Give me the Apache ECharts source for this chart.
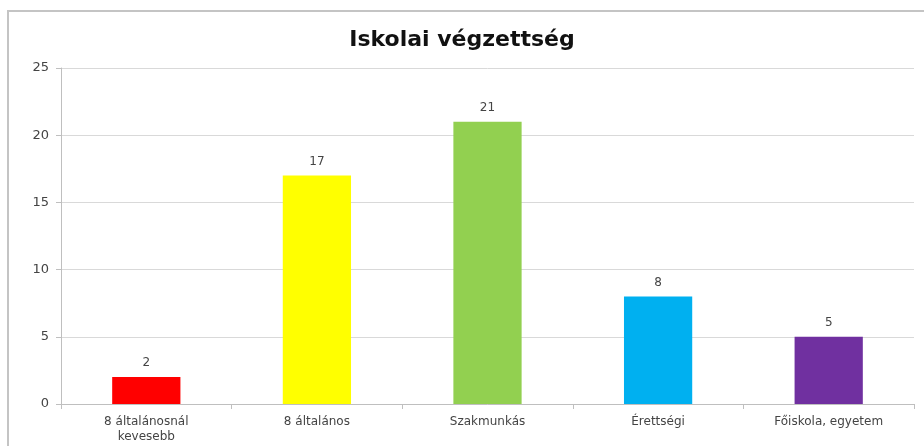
<!DOCTYPE html>
<html>
<head>
<meta charset="utf-8">
<script src="https://cdn.jsdelivr.net/npm/echarts@6/dist/echarts.min.js"></script>
<style>
  html, body { margin: 0; padding: 0; background: #fff; overflow: hidden; }
  #frame {
    position: absolute; left: 7px; top: 10px; width: 940px; height: 460px;
    border: 2px solid #c4c4c4; box-sizing: border-box;
  }
  #chart { position: absolute; left: 0; top: 0; width: 924px; height: 446px; }
</style>
</head>
<body>
<div id="frame"></div>
<div id="chart"></div>
<script>
// kategóriák és értékek
const categories = ["8 általánosnál\nkevesebb", "8 általános", "Szakmunkás", "Érettségi", "Főiskola, egyetem"];
const values = [2, 17, 21, 8, 5];
const barColors = ["#FF0000", "#FFFF00", "#92D050", "#00B0F0", "#7030A0"];

const font = "'DejaVu Sans', sans-serif";

const myChart = echarts.init(document.getElementById("chart"));
myChart.setOption({
  animation: false,
  title: {
    text: "Iskolai végzettség",
    left: "center",
    top: 24,
    textStyle: { fontFamily: font, fontSize: 22, fontWeight: "bold", color: "#111" }
  },
  grid: { left: 61, right: 10, top: 68, bottom: 42, containLabel: false },
  xAxis: {
    type: "category",
    data: categories,
    axisLine: { lineStyle: { color: "#bfbfbf" } },
    axisTick: { show: true, length: 5, lineStyle: { color: "#bfbfbf" } },
    axisLabel: { fontFamily: font, fontSize: 12, color: "#444", margin: 10, lineHeight: 15, interval: 0 }
  },
  yAxis: {
    type: "value",
    min: 0, max: 25, interval: 5,
    axisLine: { show: true, lineStyle: { color: "#bfbfbf" } },
    axisTick: { show: true, length: 5, lineStyle: { color: "#bfbfbf" } },
    splitLine: { lineStyle: { color: "#d9d9d9" } },
    axisLabel: { fontFamily: font, fontSize: 13, color: "#444", margin: 12 }
  },
  series: [{
    type: "bar",
    barWidth: "40%",
    data: values.map((v, i) => ({ value: v, itemStyle: { color: barColors[i] } })),
    label: { show: true, position: "top", distance: 8, fontFamily: font, fontSize: 12, color: "#444" }
  }]
});
</script>
</body>
</html>
